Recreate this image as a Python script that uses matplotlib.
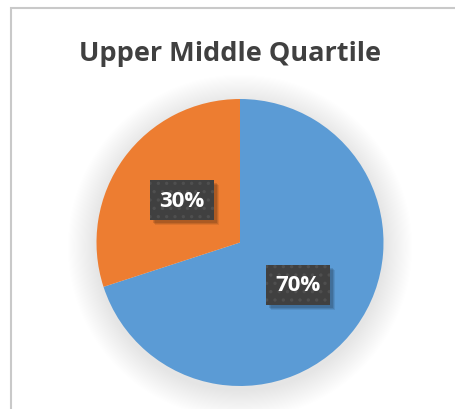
import matplotlib
matplotlib.use("Agg")
import matplotlib.pyplot as plt
from matplotlib.patches import Circle, Rectangle
from matplotlib.transforms import IdentityTransform

plt.rcParams['font.family'] = ['Open Sans', 'DejaVu Sans']
plt.rcParams['hatch.linewidth'] = 1.2

# data
labels = ['Yes', 'No']
values = [70, 30]
colors = ['#5B9BD5', '#ED7D31']
title = 'Upper Middle Quartile'

W, H = 456, 410
fig = plt.figure(figsize=(W / 100, H / 100), dpi=100, facecolor='white')
ax = fig.add_axes([0, 0, 1, 1])

# pie centre / radius in pixels
cx, cy, r = 240, H - 243.5, 143.5

# soft shadow round the pie
n = 26
for i in range(n):
    rr = 1.0 + 0.2 * (n - i) / n
    ax.add_patch(Circle((0, -0.03), rr, facecolor='black', edgecolor='none',
                        alpha=0.0042, zorder=0))

wedges, texts = ax.pie(values, colors=colors, startangle=90, counterclock=False,
                       radius=1.0, labels=[f'{v}%' for v in values],
                       labeldistance=0.5, frame=True,
                       wedgeprops=dict(linewidth=0, zorder=2))
ax.set_xlim(-cx / r, (W - cx) / r)
ax.set_ylim(-cy / r, (H - cy) / r)
ax.set_aspect('auto')
ax.axis('off')

for t in texts:
    t.set_fontsize(16)
    t.set_fontweight('bold')
    t.set_color('white')
    t.set_ha('center')
    t.set_va('center')
    t.set_zorder(5)
    t.set_bbox(dict(boxstyle='square,pad=0.42', facecolor='#404040',
                    edgecolor='#4f4f4f', hatch='..', linewidth=0))

fig.text(230 / W, 1 - 54 / H, title, ha='center', va='center',
         fontsize=19.5, fontweight='bold', color='#404040')

# shadow behind the label boxes
fig.canvas.draw()
renderer = fig.canvas.get_renderer()
for t in texts:
    bb = t.get_bbox_patch().get_window_extent(renderer)
    for dx, a in [(5, 0.08), (4, 0.1), (3, 0.12)]:
        ax.add_patch(Rectangle((bb.x0 + dx, bb.y0 - dx), bb.width, bb.height,
                               transform=IdentityTransform(), facecolor='black',
                               edgecolor='none', alpha=a, zorder=4))

# chart border
fig.patches.append(Rectangle((11.5 / W, -0.05), 1.1, (H - 8.5) / H + 0.05,
                             transform=fig.transFigure, fill=False,
                             edgecolor='#c9c9c9', linewidth=1.5))

fig.savefig('out.png', dpi=100, facecolor='white')
